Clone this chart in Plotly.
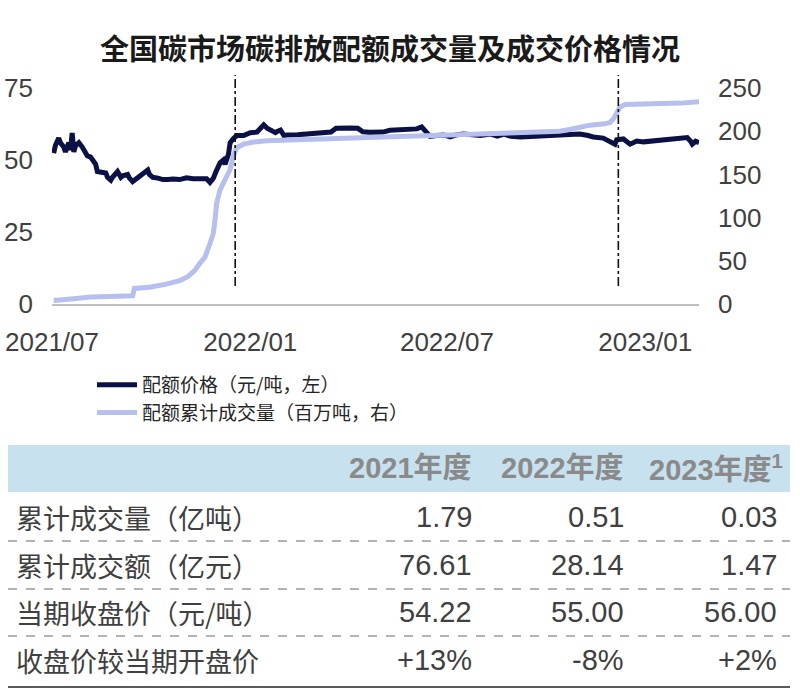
import plotly.graph_objects as go

# ---------------- data ----------------
# x = trading-day index since the national market opened (2021/07)
price_day = [1, 2, 4, 5, 7, 8, 10, 11, 12, 13, 14, 15, 16, 18, 20, 21, 23, 24, 26, 27,
             30, 32, 33, 35, 36, 39, 41, 42, 45, 46, 48, 51, 52, 55, 57, 58, 60, 63, 66, 69,
             72, 76, 80, 84, 88, 92, 94, 96, 98, 100, 102, 103, 105, 106, 108, 110, 114, 118, 122, 124,
             126, 128, 130, 133, 134, 136, 138, 140, 146, 154, 158, 163, 166, 169, 171, 177, 182, 185, 189, 197,
             201, 207, 213, 217, 220, 223, 225, 229, 233, 237, 241, 245, 249, 255, 261, 265, 269, 273, 279, 289,
             298, 308, 314, 319, 322, 328, 332, 335, 336, 340, 344, 348, 352, 358, 363, 368, 374, 378, 380, 381,
             383, 385]
price = [52.4, 55, 57.6, 56, 54.5, 52.8, 56, 53.5, 59.4, 52.8, 55, 55.5, 56, 54.5, 52.8, 51.5, 51, 50, 48.5, 46,
         45.5, 45.5, 44, 43, 44, 46, 44, 44.5, 45, 43.8, 42.5, 44, 44.5, 45.5, 46.5, 45, 44, 43.7, 43.2, 43.2,
         43.4, 43.2, 43.8, 43.5, 43.5, 43.5, 42.2, 43.7, 46.5, 49, 50, 48.5, 52, 56, 57.5, 58.5, 58.5, 59.5, 59.7, 61,
         62.2, 61, 60.4, 59.5, 59.9, 60.4, 58.5, 58.7, 58.8, 59, 59.3, 59.5, 59.7, 61, 61.1, 61.1, 61, 59.8, 59.6, 59.7,
         60.3, 60.5, 60.5, 60.8, 61.5, 59.7, 58.2, 58.5, 58.7, 58, 58.8, 59, 58.7, 58.5, 59, 58.3, 59, 58.2, 58, 58.2,
         58.3, 58.8, 59, 58.5, 58, 57.6, 56.3, 55.5, 57, 57.3, 55.5, 56.6, 56.3, 56.6, 56.8, 57, 57.3, 57.8, 56.5, 55.5,
         56.5, 56]

volume_day = [1, 5, 13, 23, 33, 48, 49, 58, 68, 76, 81, 85, 88, 91, 94, 96, 97, 98, 100, 103,
              106, 108, 110, 114, 120, 128, 148, 177, 207, 237, 267, 289, 302, 308, 314, 320, 329, 332, 334, 336,
              338, 341, 358, 374, 385]
volume = [4, 5, 6, 8, 9, 9.5, 18, 19.5, 23, 27, 32, 39, 47, 54, 70, 82, 97, 117, 132, 143,
          156, 172, 181, 185, 187.5, 189, 190.5, 192, 194, 195.5, 197, 198.5, 200, 202, 205, 207, 208.5, 210, 214, 222,
          228, 231, 231.5, 232.5, 234]

tick_days = [0, 118, 235, 353]
tick_labels = ["2021/07", "2022/01", "2022/07", "2023/01"]
period_end_days = [109, 337]          # end of compliance periods (dash-dot markers)

title_text = "全国碳市场碳排放配额成交量及成交价格情况"
series_names = ["配额价格（元/吨，左）", "配额累计成交量（百万吨，右）"]

table_cols = ["2021年度", "2022年度", "2023年度<sup>1</sup>"]
row_labels = ["累计成交量（亿吨）", "累计成交额（亿元）", "当期收盘价（元/吨）", "收盘价较当期开盘价"]
row_values = [["1.79", "0.51", "0.03"],
              ["76.61", "28.14", "1.47"],
              ["54.22", "55.00", "56.00"],
              ["+13%", "-8%", "+2%"]]

# ---------------- layout helpers ----------------
W, H = 800, 689
def px(x):
    return x / W
def py(y):
    return 1 - y / H

NUM_FONT = "Liberation Sans, Arial, Noto Sans CJK SC"
CJK_FONT = "Noto Sans CJK SC, Noto Sans, sans-serif"

fig = go.Figure()
fig.add_trace(go.Scatter(x=price_day, y=price, name=series_names[0], mode="lines",
                         line=dict(color="#0b1145", width=5), yaxis="y"))
fig.add_trace(go.Scatter(x=volume_day, y=volume, name=series_names[1], mode="lines",
                         line=dict(color="#b6bfee", width=5), yaxis="y2"))

shapes = []
for d in period_end_days:
    shapes.append(dict(type="line", xref="x", yref="paper", x0=d, x1=d,
                       y0=py(286), y1=py(75), line=dict(color="#111111", width=1.6, dash="dashdot")))

# table
table_left, table_right = 8, 790
shapes.append(dict(type="rect", xref="paper", yref="paper", x0=px(table_left), x1=px(table_right),
                   y0=py(492), y1=py(445), fillcolor="#c8e1ef", line=dict(width=0), layer="below"))
for ys in [541, 589, 636]:
    shapes.append(dict(type="line", xref="paper", yref="paper", x0=px(table_left), x1=px(table_right),
                       y0=py(ys), y1=py(ys), line=dict(color="#9a9a9a", width=1.5, dash="dash")))
shapes.append(dict(type="line", xref="paper", yref="paper", x0=px(table_left), x1=px(table_right),
                   y0=py(687), y1=py(687), line=dict(color="#5a5a5a", width=2)))

annotations = []
annotations.append(dict(text="<b>" + title_text + "</b>", xref="paper", yref="paper",
                        x=px(390), y=py(47), xanchor="center", yanchor="middle", showarrow=False,
                        font=dict(family=CJK_FONT, size=29, color="#1a1a1a")))

col_right = [474, 626, 779]
for c, t in enumerate(table_cols):
    annotations.append(dict(text="<b>" + t + "</b>", xref="paper", yref="paper",
                            x=px(col_right[c] + (6 if c == 2 else 0)), y=py(468), xanchor="right", yanchor="middle",
                            showarrow=False, font=dict(family=NUM_FONT, size=29, color="#8a8a8a")))
row_y = [517, 565, 612, 660]
for r, lab in enumerate(row_labels):
    annotations.append(dict(text=lab, xref="paper", yref="paper", x=px(14), y=py(row_y[r]),
                            xanchor="left", yanchor="middle", showarrow=False,
                            font=dict(family=CJK_FONT, size=27, color="#404040")))
    for c, v in enumerate(row_values[r]):
        annotations.append(dict(text=v, xref="paper", yref="paper", x=px(col_right[c]), y=py(row_y[r]),
                                xanchor="right", yanchor="middle", showarrow=False,
                                font=dict(family=NUM_FONT, size=29, color="#404040")))

fig.update_layout(
    width=W, height=H,
    margin=dict(l=0, r=0, t=0, b=0, autoexpand=False),
    paper_bgcolor="white", plot_bgcolor="white",
    showlegend=True,
    legend=dict(x=px(92), y=py(366), xanchor="left", yanchor="top", orientation="v",
                bgcolor="rgba(0,0,0,0)", font=dict(family=CJK_FONT, size=19, color="#262626"),
                itemwidth=40, tracegroupgap=0),
    xaxis=dict(domain=[px(52), px(699)], range=[0, 385], tickvals=tick_days, ticktext=tick_labels,
               automargin=False,
               showgrid=False, zeroline=False, showline=True, linecolor="#c0c0c0", linewidth=1.5,
               ticks="", ticklabelstandoff=14,
               tickfont=dict(family=NUM_FONT, size=26, color="#404040")),
    yaxis=dict(domain=[py(304), py(88)], range=[0, 75], tickvals=[0, 25, 50, 75], automargin=False,
               showgrid=False, zeroline=False, showline=False, ticks="", ticklabelstandoff=18,
               tickfont=dict(family=NUM_FONT, size=26, color="#404040")),
    yaxis2=dict(domain=[py(304), py(88)], range=[0, 250], tickvals=[0, 50, 100, 150, 200, 250],
                overlaying="y", side="right", anchor="x", automargin=False,
                showgrid=False, zeroline=False, showline=False, ticks="", ticklabelstandoff=18,
                tickfont=dict(family=NUM_FONT, size=26, color="#404040")),
    shapes=shapes,
    annotations=annotations,
)

fig.write_html("out.html")
